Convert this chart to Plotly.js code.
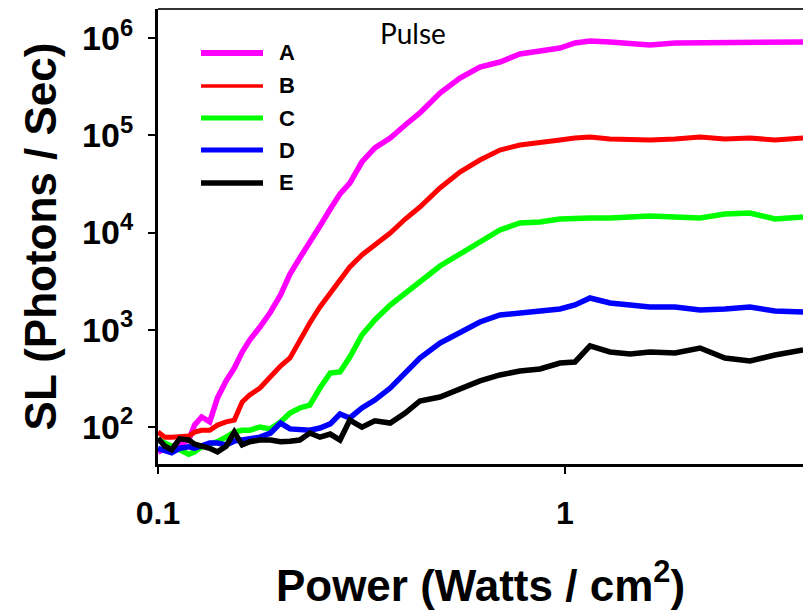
<!DOCTYPE html>
<html>
<head>
<meta charset="utf-8">
<script src="https://cdn.plot.ly/plotly-3.0.1.min.js"></script>
<style>html,body{margin:0;padding:0;background:#fff;}#chart{width:803px;height:612px;}</style>
</head>
<body>
<div id="chart"></div>
<script>
// Power (Watts / cm2) — shared x values
const power = [0.1, 0.104, 0.108, 0.113, 0.119, 0.123, 0.128, 0.134, 0.14, 0.147, 0.154, 0.161, 0.168, 0.178, 0.189, 0.2, 0.211, 0.223, 0.236, 0.25, 0.265, 0.28, 0.296, 0.317, 0.341, 0.372, 0.405, 0.44, 0.493, 0.552, 0.618, 0.692, 0.775, 0.868, 0.972, 1.058, 1.152, 1.29, 1.445, 1.617, 1.864, 2.147, 2.472, 2.848, 3.281, 3.845];

// SL (Photons / Sec) per pulse series
const seriesA = [55, 60, 63, 65, 73, 104, 126, 112, 198, 296, 402, 588, 781, 1064, 1518, 2272, 3736, 5463, 7796, 11670, 17460, 24920, 32340, 53210, 74190, 94020, 128000, 170100, 273400, 390100, 506200, 569900, 689100, 740000, 794500, 894400, 938000, 916000, 894400, 853100, 894400, 894400, 916000, 916000, 894400, 916000];
const seriesB = [88, 78, 78, 78, 80, 88, 92, 92, 104, 112, 117, 180, 212, 250, 325, 422, 510, 781, 1170, 1709, 2382, 3242, 4413, 5866, 7435, 9883, 13770, 18300, 28730, 42000, 55790, 70750, 79630, 83500, 89670, 94020, 96270, 91830, 89670, 89670, 91830, 96270, 91830, 94020, 89670, 94020];
const seriesC = [73, 68, 65, 58, 52, 55, 62, 65, 70, 78, 88, 92, 92, 99, 95, 112, 138, 156, 167, 250, 357, 366, 522, 880, 1256, 1792, 2382, 3092, 4519, 6005, 7983, 10610, 12530, 12830, 13770, 14110, 14110, 14110, 14440, 14790, 14440, 14110, 15510, 15880, 13770, 14440];
const seriesD = [60, 56, 54, 60, 62, 60, 63, 68, 68, 65, 71, 73, 73, 78, 86, 109, 95, 92, 92, 97, 107, 135, 123, 156, 188, 250, 357, 510, 728, 923, 1197, 1414, 1483, 1554, 1630, 1792, 2116, 1879, 1792, 1709, 1709, 1592, 1630, 1709, 1554, 1518];
const seriesE = [76, 63, 58, 75, 73, 66, 63, 60, 55, 63, 88, 65, 70, 73, 73, 70, 71, 73, 86, 78, 84, 73, 117, 99, 115, 109, 138, 184, 202, 245, 296, 341, 375, 393, 453, 464, 678, 588, 561, 588, 574, 646, 510, 475, 548, 617];

const names = ['A', 'B', 'C', 'D', 'E'];
const colors = ['#ff00ff', '#ff0000', '#00ff00', '#0000ff', '#000000'];
const widths = [5.5, 5, 5.5, 5.5, 5.5];
const legendWidths = [6, 3.5, 5, 5, 5.5];
const allSeries = [seriesA, seriesB, seriesC, seriesD, seriesE];

const yTickVals = [100, 1000, 10000, 100000, 1000000];
const yTickText = ['10<sup>2</sup>', '10<sup>3</sup>', '10<sup>4</sup>', '10<sup>5</sup>', '10<sup>6</sup>'];
const xTickVals = [0.1, 1];
const xTickText = ['0.1', '1'];

const traces = allSeries.map((s, i) => ({
  x: power, y: s, type: 'scatter', mode: 'lines', name: names[i],
  line: {color: colors[i], width: widths[i]}, showlegend: false
}));

// manual legend (long line samples like the original)
const legRowsY = [0.9033, 0.8308, 0.7604, 0.6901, 0.6176];
const shapes = [{
  type: 'line', xref: 'paper', yref: 'paper', x0: 0, x1: 1, y0: 1, y1: 1,
  line: {color: '#333', width: 2}
}];
const annotations = [{
  text: 'Pulse', xref: 'paper', yref: 'paper', x: 0.395, y: 0.947,
  xanchor: 'center', yanchor: 'middle', showarrow: false,
  font: {family: 'Lato, "Open Sans", sans-serif', size: 28, color: '#000'}
}];
names.forEach((n, i) => {
  shapes.push({type: 'line', xref: 'paper', yref: 'paper', x0: 0.0667, x1: 0.1628,
    y0: legRowsY[i], y1: legRowsY[i], line: {color: colors[i], width: legendWidths[i]}});
  annotations.push({text: n, xref: 'paper', yref: 'paper', x: 0.1845, y: legRowsY[i],
    xanchor: 'left', yanchor: 'middle', showarrow: false,
    font: {family: '"Liberation Sans", Arial, sans-serif', size: 22, color: '#000', weight: 'bold'}});
});

const layout = {
  width: 803, height: 612,
  margin: {l: 158, r: 0, t: 9, b: 148},
  paper_bgcolor: '#fff', plot_bgcolor: '#fff',
  font: {family: '"Liberation Sans", Arial, sans-serif', color: '#000'},
  xaxis: {
    type: 'log', range: [-1, 0.5848],
    tickmode: 'array', tickvals: xTickVals, ticktext: xTickText,
    showgrid: false, zeroline: false,
    showline: true, linecolor: '#000', linewidth: 3,
    ticks: 'outside', ticklen: 7, tickwidth: 2, tickcolor: '#000',
    ticklabelstandoff: 12,
    tickfont: {size: 32, weight: 'bold', color: '#000'},
    title: {text: 'Power (Watts / cm<sup>2</sup>)', standoff: 40,
      font: {size: 44, weight: 'bold', color: '#000'}}
  },
  yaxis: {
    type: 'log', range: [1.6159, 6.3018],
    tickmode: 'array', tickvals: yTickVals, ticktext: yTickText,
    showgrid: false, zeroline: false,
    showline: true, linecolor: '#000', linewidth: 3,
    ticks: 'outside', ticklen: 7, tickwidth: 2, tickcolor: '#000',
    ticklabelstandoff: 8,
    tickfont: {size: 34, weight: 'bold', color: '#000'},
    title: {text: 'SL (Photons / Sec)', standoff: 12,
      font: {size: 44, weight: 'bold', color: '#000'}}
  },
  shapes: shapes,
  annotations: annotations,
  showlegend: false
};

Plotly.newPlot('chart', traces, layout, {staticPlot: true, displayModeBar: false});
</script>
</body>
</html>
